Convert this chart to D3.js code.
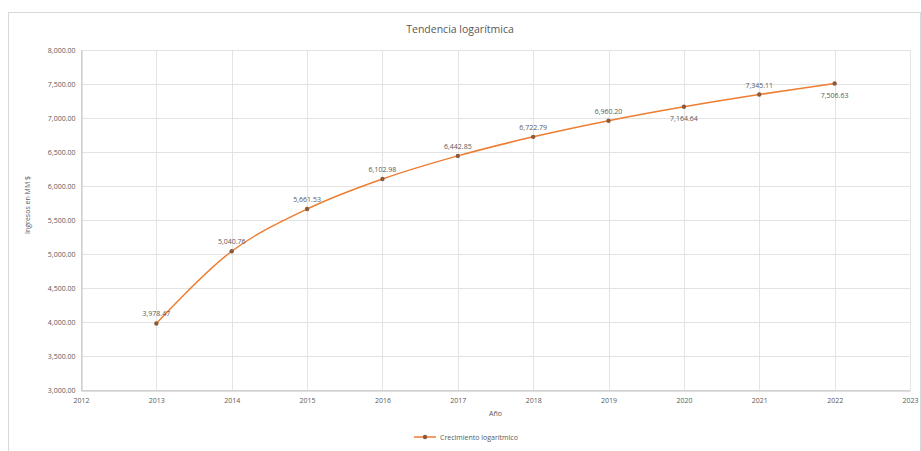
<!DOCTYPE html>
<html>
<head>
<meta charset="utf-8">
<script src="https://cdn.jsdelivr.net/npm/d3@7"></script>
<style>
  body { margin: 0; background: #fff; }
  text { font-family: "Open Sans", "Liberation Sans", sans-serif; fill: #595959; }
</style>
</head>
<body>
<div id="chart"></div>
<script>
// data
var years = [2013, 2014, 2015, 2016, 2017, 2018, 2019, 2020, 2021, 2022];
var values = [3978.47, 5040.76, 5661.53, 6102.98, 6442.85, 6722.79, 6960.20, 7164.64, 7345.11, 7506.63];
var labelBelow = [false, false, false, false, false, false, false, true, false, true];
var xTicks = [2012, 2013, 2014, 2015, 2016, 2017, 2018, 2019, 2020, 2021, 2022, 2023];
var yTicks = [3000, 3500, 4000, 4500, 5000, 5500, 6000, 6500, 7000, 7500, 8000];

var width = 921, height = 451;
var margin = {left: 81, right: 11, top: 50, bottom: 61};

var svg = d3.select("#chart").append("svg")
    .attr("width", width)
    .attr("height", height);

// chart frame
svg.append("rect")
    .attr("x", 8.5).attr("y", 12.5)
    .attr("width", width - 9).attr("height", height - 12)
    .attr("fill", "#fff")
    .attr("stroke", "#d9d9d9");

var x = d3.scaleLinear().domain([2012, 2023]).range([margin.left, width - margin.right]);
var y = d3.scaleLinear().domain([3000, 8000]).range([height - margin.bottom, margin.top]);

var fmt = d3.format(",.2f");

// grid
svg.append("g").selectAll("line")
    .data(yTicks).enter().append("line")
    .attr("x1", margin.left).attr("x2", width - margin.right)
    .attr("y1", function (d) { return Math.round(y(d)) + 0.5; })
    .attr("y2", function (d) { return Math.round(y(d)) + 0.5; })
    .attr("stroke", "#e3e3e3");

svg.append("g").selectAll("line")
    .data(xTicks).enter().append("line")
    .attr("y1", margin.top).attr("y2", height - margin.bottom)
    .attr("x1", function (d) { return Math.round(x(d)) + 0.5; })
    .attr("x2", function (d) { return Math.round(x(d)) + 0.5; })
    .attr("stroke", "#e3e3e3");

// axes
var yAxis = svg.append("g")
    .attr("transform", "translate(" + (margin.left + 0.5) + ",0)")
    .call(d3.axisLeft(y).tickValues(yTicks).tickFormat(fmt).tickSize(0).tickPadding(6));
yAxis.select(".domain").attr("stroke", "#bfbfbf");
yAxis.selectAll("text").style("font-size", "7px");

var xAxis = svg.append("g")
    .attr("transform", "translate(0," + (height - margin.bottom + 0.5) + ")")
    .call(d3.axisBottom(x).tickValues(xTicks).tickFormat(d3.format("d")).tickSize(0).tickPadding(8));
xAxis.select(".domain").attr("stroke", "#bfbfbf");
xAxis.selectAll("text").style("font-size", "7px");

// titles
svg.append("text")
    .attr("x", 460).attr("y", 33)
    .attr("text-anchor", "middle")
    .style("font-size", "10.5px")
    .text("Tendencia logarítmica");

svg.append("text")
    .attr("x", (margin.left + width - margin.right) / 2).attr("y", 416)
    .attr("text-anchor", "middle")
    .style("font-size", "7px")
    .text("Año");

svg.append("text")
    .attr("transform", "translate(30,205) rotate(-90)")
    .attr("text-anchor", "middle")
    .style("font-size", "7px")
    .text("Ingresos en MM $");

// line (smoothed like the spreadsheet)
var line = d3.line()
    .x(function (d, i) { return x(years[i]); })
    .y(function (d) { return y(d); })
    .curve(d3.curveCatmullRom.alpha(0.5));

svg.append("path")
    .datum(values)
    .attr("d", line)
    .attr("fill", "none")
    .attr("stroke", "#ed7d31")
    .attr("stroke-width", 1.5);

svg.append("g").selectAll("circle")
    .data(values).enter().append("circle")
    .attr("cx", function (d, i) { return x(years[i]); })
    .attr("cy", function (d) { return y(d); })
    .attr("r", 2.2)
    .attr("fill", "#8a5a3a");

svg.append("g").selectAll("text")
    .data(values).enter().append("text")
    .attr("x", function (d, i) { return x(years[i]); })
    .attr("y", function (d, i) { return y(d) + (labelBelow[i] ? 14 : -7); })
    .attr("text-anchor", "middle")
    .style("font-size", "7px")
    .text(function (d) { return fmt(d); });

// legend
var lg = svg.append("g").attr("transform", "translate(414,437)");
lg.append("line").attr("x1", 0).attr("x2", 22).attr("stroke", "#ed7d31").attr("stroke-width", 1.5);
lg.append("circle").attr("cx", 11).attr("r", 2.2).attr("fill", "#8a5a3a");
lg.append("text").attr("x", 26).attr("y", 2.5).style("font-size", "7px").text("Crecimiento logarítmico");
</script>
</body>
</html>
